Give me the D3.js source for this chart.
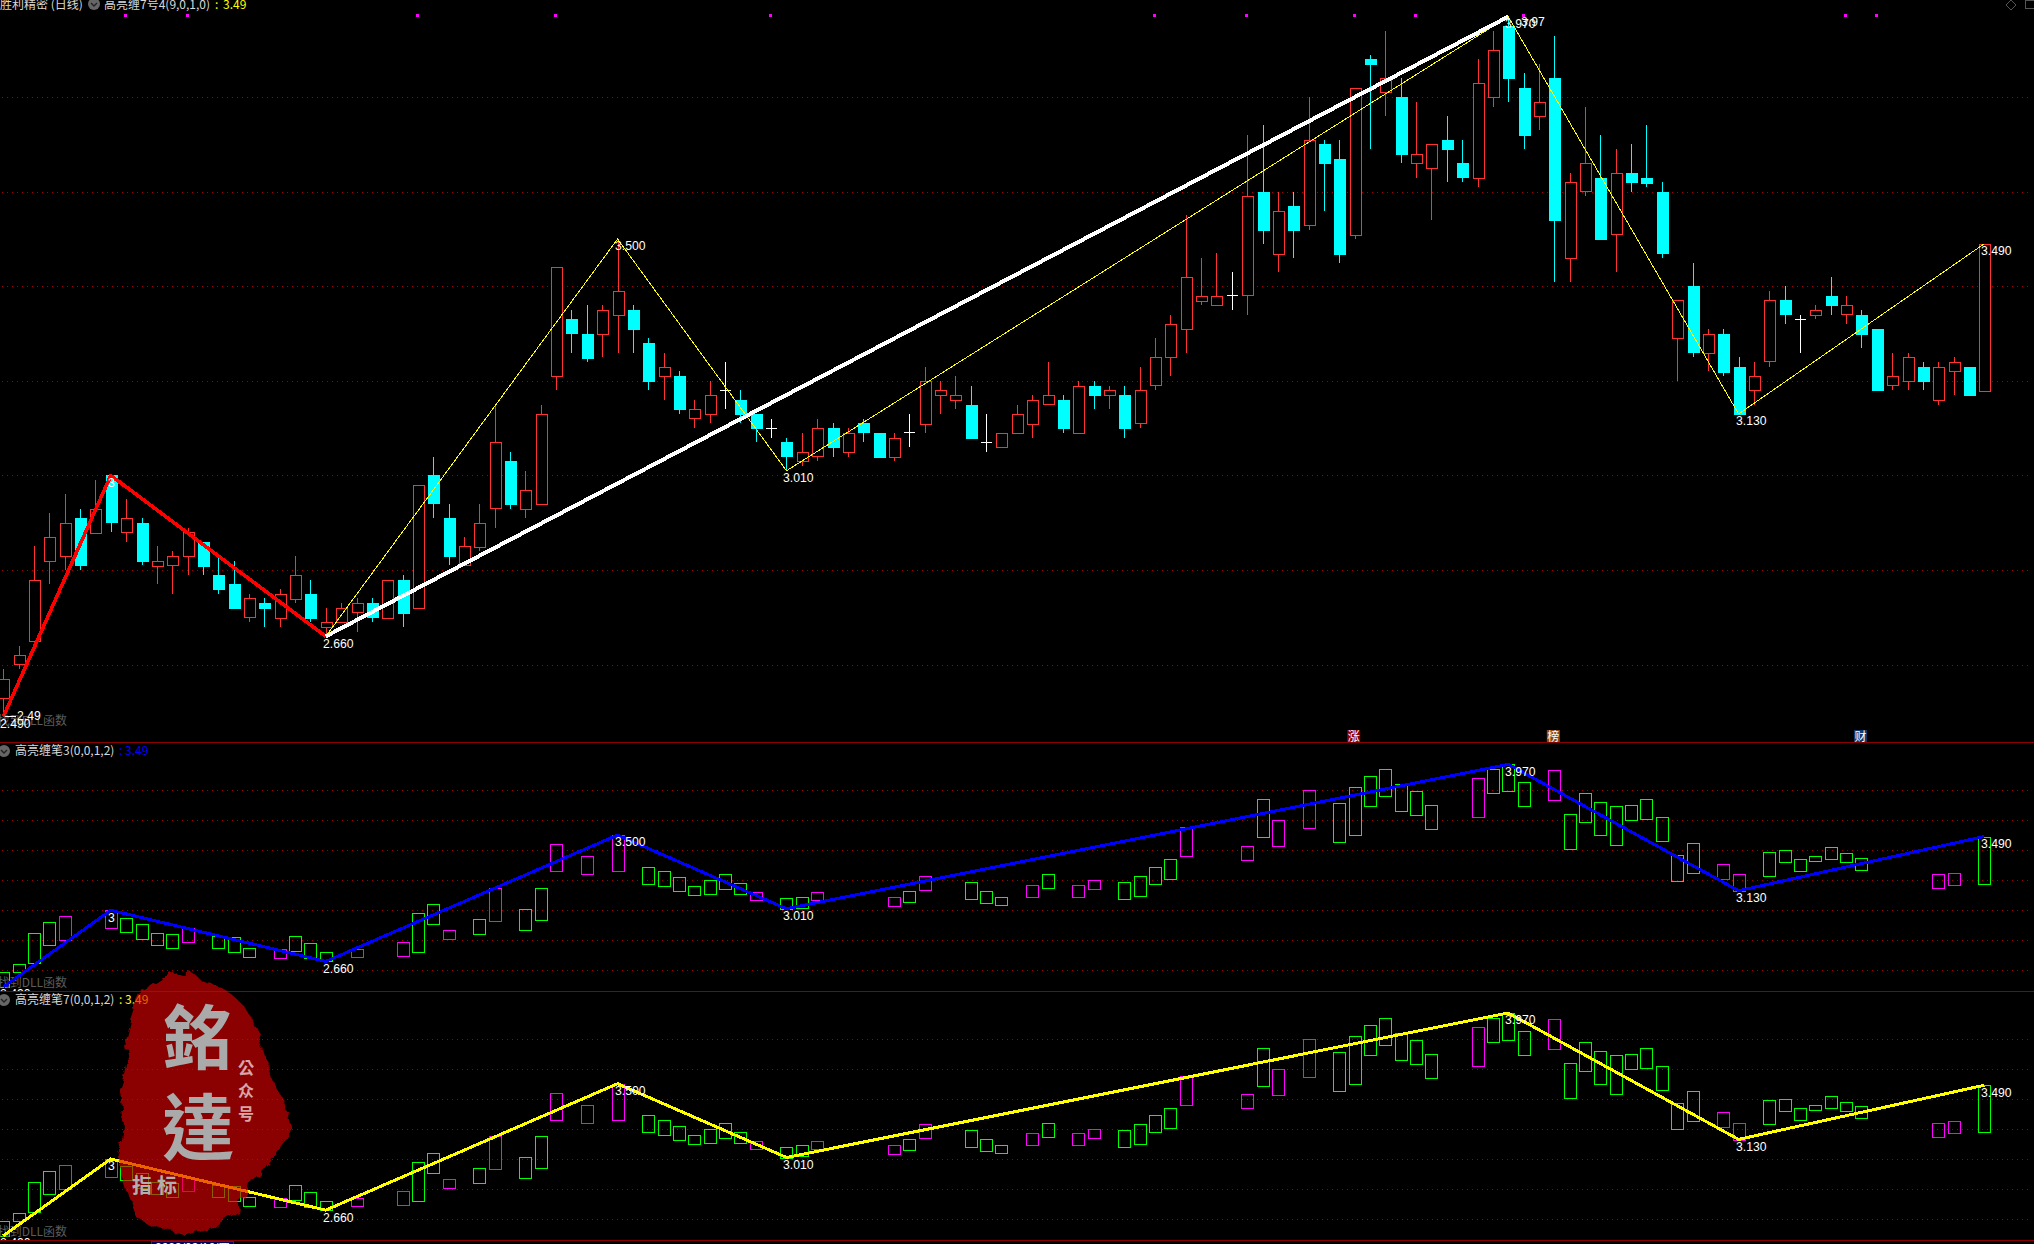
<!DOCTYPE html>
<html><head><meta charset="utf-8">
<script src="https://cdn.jsdelivr.net/npm/d3@7/dist/d3.min.js"></script>
<style>html,body{margin:0;padding:0;background:#000;overflow:hidden}svg{display:block}</style>
</head><body><svg id="c" width="2034" height="1244"></svg>
<script>
const opens=[2.53,2.60,2.65,2.82,2.83,2.91,2.88,3.00,2.88,2.90,2.81,2.81,2.83,2.86,2.79,2.77,2.70,2.73,2.70,2.74,2.75,2.68,2.69,2.71,2.73,2.70,2.78,2.72,3.00,2.91,2.81,2.85,2.93,3.03,2.93,2.94,3.21,3.33,3.30,3.30,3.34,3.35,3.28,3.21,3.21,3.12,3.13,3.18,3.16,3.13,3.10,3.07,3.03,3.04,3.10,3.05,3.11,3.09,3.04,3.09,3.11,3.17,3.16,3.15,3.07,3.06,3.09,3.11,3.15,3.16,3.09,3.19,3.17,3.17,3.11,3.19,3.25,3.31,3.37,3.36,3.38,3.38,3.60,3.47,3.57,3.53,3.70,3.67,3.51,3.88,3.81,3.80,3.66,3.65,3.71,3.66,3.63,3.80,3.95,3.82,3.76,3.84,3.46,3.60,3.63,3.51,3.64,3.63,3.60,3.29,3.40,3.26,3.30,3.23,3.18,3.24,3.37,3.33,3.34,3.38,3.34,3.34,3.31,3.19,3.20,3.23,3.16,3.22,3.23,3.18];
const closes=[2.57,2.62,2.78,2.87,2.90,2.81,2.93,2.90,2.91,2.82,2.82,2.83,2.88,2.81,2.76,2.72,2.74,2.72,2.75,2.79,2.70,2.69,2.72,2.73,2.70,2.78,2.71,2.98,2.94,2.83,2.85,2.90,3.07,2.94,2.97,3.13,3.44,3.30,3.25,3.35,3.39,3.31,3.20,3.23,3.14,3.14,3.17,3.18,3.13,3.10,3.10,3.04,3.05,3.10,3.06,3.09,3.09,3.04,3.08,3.09,3.20,3.18,3.17,3.08,3.07,3.09,3.13,3.16,3.17,3.10,3.19,3.17,3.18,3.10,3.18,3.25,3.32,3.42,3.38,3.38,3.38,3.59,3.52,3.56,3.52,3.71,3.66,3.47,3.82,3.87,3.84,3.68,3.68,3.70,3.69,3.63,3.83,3.90,3.84,3.72,3.79,3.54,3.62,3.66,3.50,3.64,3.62,3.62,3.47,3.37,3.26,3.30,3.22,3.13,3.21,3.37,3.34,3.33,3.35,3.36,3.36,3.30,3.18,3.21,3.25,3.20,3.23,3.24,3.17,3.49];
const highs=[2.59,2.64,2.85,2.92,2.96,2.93,2.99,3.00,2.95,2.91,2.85,2.84,2.89,2.86,2.83,2.82,2.75,2.74,2.76,2.83,2.78,2.72,2.73,2.74,2.74,2.78,2.79,2.98,3.04,2.94,2.87,2.94,3.15,3.05,3.01,3.15,3.44,3.35,3.36,3.36,3.50,3.36,3.29,3.26,3.22,3.16,3.20,3.24,3.18,3.13,3.12,3.08,3.09,3.12,3.11,3.10,3.12,3.09,3.09,3.13,3.23,3.20,3.21,3.19,3.13,3.09,3.15,3.17,3.24,3.17,3.20,3.20,3.19,3.19,3.23,3.29,3.34,3.55,3.46,3.47,3.43,3.72,3.74,3.60,3.60,3.80,3.71,3.71,3.82,3.89,3.94,3.84,3.79,3.70,3.76,3.71,3.88,3.94,3.97,3.85,3.87,3.93,3.64,3.78,3.72,3.69,3.70,3.74,3.62,3.37,3.45,3.31,3.31,3.25,3.24,3.39,3.40,3.34,3.36,3.42,3.38,3.35,3.31,3.26,3.26,3.24,3.24,3.25,3.23,3.49];
const lows=[2.49,2.59,2.65,2.77,2.80,2.80,2.88,2.88,2.86,2.81,2.77,2.75,2.79,2.79,2.75,2.72,2.69,2.68,2.68,2.73,2.69,2.66,2.69,2.67,2.69,2.70,2.68,2.72,2.91,2.81,2.81,2.84,2.89,2.93,2.91,2.94,3.18,3.26,3.24,3.25,3.26,3.26,3.18,3.16,3.13,3.10,3.11,3.14,3.11,3.07,3.08,3.01,3.02,3.03,3.04,3.04,3.07,3.04,3.03,3.06,3.09,3.13,3.14,3.08,3.05,3.06,3.09,3.08,3.15,3.09,3.09,3.14,3.14,3.08,3.10,3.18,3.21,3.26,3.36,3.36,3.35,3.34,3.49,3.43,3.46,3.52,3.56,3.45,3.50,3.69,3.76,3.66,3.63,3.54,3.62,3.62,3.61,3.78,3.79,3.69,3.73,3.41,3.41,3.59,3.50,3.43,3.60,3.61,3.46,3.20,3.25,3.22,3.21,3.13,3.15,3.23,3.32,3.26,3.33,3.34,3.32,3.27,3.18,3.18,3.18,3.18,3.15,3.17,3.17,3.18];

const boxIndex=[0,1,2,3,4,7,8,9,10,11,12,14,15,16,18,19,20,21,23,26,27,28,29,31,32,34,35,36,38,40,42,43,44,45,46,47,48,49,51,52,53,58,59,60,63,64,65,67,68,70,71,73,74,75,76,77,81,82,83,85,87,88,89,90,91,92,93,96,97,98,99,101,102,103,104,105,106,107,108,109,110,112,113,115,116,117,118,119,120,121,126,127,129];
const boxHigh=[2.59,2.64,2.85,2.92,2.96,3.00,2.95,2.91,2.85,2.84,2.88,2.83,2.82,2.75,2.74,2.83,2.78,2.72,2.74,2.79,2.98,3.04,2.87,2.94,3.15,3.01,3.15,3.44,3.36,3.50,3.29,3.26,3.22,3.16,3.20,3.24,3.18,3.12,3.08,3.09,3.12,3.09,3.13,3.23,3.19,3.13,3.09,3.17,3.24,3.17,3.20,3.19,3.23,3.29,3.34,3.55,3.43,3.74,3.60,3.80,3.71,3.82,3.89,3.94,3.84,3.79,3.70,3.88,3.94,3.97,3.85,3.93,3.64,3.78,3.72,3.69,3.70,3.74,3.62,3.37,3.45,3.31,3.24,3.39,3.40,3.34,3.36,3.42,3.38,3.35,3.24,3.25,3.49];
const boxLow=[2.49,2.59,2.65,2.77,2.80,2.88,2.86,2.81,2.77,2.75,2.79,2.75,2.72,2.69,2.68,2.73,2.68,2.66,2.69,2.70,2.72,2.91,2.81,2.84,2.93,2.87,2.94,3.26,3.24,3.26,3.18,3.16,3.13,3.10,3.11,3.14,3.11,3.07,3.01,3.02,3.07,3.03,3.06,3.14,3.08,3.05,3.04,3.09,3.15,3.09,3.14,3.08,3.10,3.18,3.21,3.36,3.34,3.49,3.43,3.55,3.45,3.50,3.69,3.76,3.66,3.63,3.54,3.62,3.78,3.79,3.69,3.73,3.41,3.59,3.50,3.43,3.60,3.61,3.46,3.20,3.25,3.21,3.13,3.23,3.32,3.26,3.33,3.34,3.32,3.27,3.15,3.17,3.18];
const boxMagenta=[4,7,12,18,23,26,29,32,36,38,40,49,53,58,60,67,70,71,77,81,83,85,96,101,112,113,126,127];

const pivotIndex=[0,7,21,40,51,98,113,129];
const pivotValue=[2.49,3.00,2.66,3.50,3.01,3.97,3.13,3.49];
const pivotLabel=["2.490","3","2.660","3.500","3.010","3.970","3.130","3.490"];
const redLegIndex=[0,7,21], redLegValue=[2.49,3.00,2.66];
const whiteLegIndex=[21,98], whiteLegValue=[2.66,3.97];
const thinLegIndex=[21,40,51,98,113,129], thinLegValue=[2.66,3.50,3.01,3.97,3.13,3.49];
const gridValues=[2.6,2.8,3.0,3.2,3.4,3.6,3.8];
const signalIndex=[8,12,27,36,50,75,81,88,92,99,120,122];
const badgeIndex=[88,101,121], badgeText=["涨","榜","财"];

const svg=d3.select("#c");
const CJK='"Noto Sans CJK SC","Noto Sans",sans-serif';
const NUM='"Liberation Sans",Arial,sans-serif';
const x=d3.scaleLinear().domain([0,129]).range([3.3,1984.3]);
const yMain=d3.scaleLinear().domain([2.49,3.97]).range([716.7,16.7]);
const yB=d3.scaleLinear().domain([2.49,3.97]).range([987,764.3]);
const yC=d3.scaleLinear().domain([2.49,3.97]).range([1235.7,1013]);
const gridCol="#a00000", frameCol="#8b0000";
const defs=svg.append("defs");
[["p1",0,0,742],["p2",0,743,248],["p3",0,992,248]].forEach(([id,px,py,h])=>
  defs.append("clipPath").attr("id",id).append("rect").attr("x",px).attr("y",py).attr("width",2034).attr("height",h));
const f=defs.append("filter").attr("id","rough").attr("x","-10%").attr("y","-10%").attr("width","120%").attr("height","120%");
f.append("feTurbulence").attr("type","fractalNoise").attr("baseFrequency",0.09).attr("numOctaves",3).attr("seed",4).attr("result","n");
f.append("feDisplacementMap").attr("in","SourceGraphic").attr("in2","n").attr("scale",11);

function grid(g,y){
  const axis=d3.axisLeft(y).tickValues(gridValues).tickSize(-2030).tickFormat("");
  const a=g.append("g").attr("transform","translate(2,0)").attr("shape-rendering","crispEdges").call(axis);
  a.select(".domain").remove();
  a.selectAll(".tick line").attr("stroke",gridCol).attr("stroke-dasharray","1,4");
}
function poly(g,idx,val,y,col,w){
  g.append("path").attr("d",d3.line().x(d=>x(d[0])).y(d=>y(d[1]))(idx.map((v,i)=>[v,val[i]])))
   .attr("fill","none").attr("stroke",col).attr("stroke-width",w).attr("stroke-linejoin","round")
   .attr("shape-rendering","crispEdges");
}
function num(g,tx,ty,t,col){
  return g.append("text").attr("x",tx).attr("y",ty).attr("dy","0.36em").attr("font-family",NUM).attr("font-size",12.2)
    .attr("fill",col||"#fff").text(t);
}
function dllText(g,ty){
  g.append("text").attr("x",67).attr("y",ty).attr("dy","0.36em").attr("text-anchor","end")
   .attr("font-family",CJK).attr("font-size",12).attr("fill","#5c5c5c").text("找到DLL函数");
}
function pivotLabels(g,y){
  pivotIndex.forEach((p,i)=>{
    const px=p===0?0:(p===7?108:Math.round(x(p))-3);
    num(g,px,y(pivotValue[i])+7,pivotLabel[i]);
  });
}
function chip(g,cx,cy){
  g.append("circle").attr("cx",cx).attr("cy",cy).attr("r",6).attr("fill","#666");
  g.append("path").attr("d",`M${cx-3},${cy-1} L${cx},${cy+2} L${cx+3},${cy-1}`).attr("fill","none").attr("stroke","#222").attr("stroke-width",1.4);
}
function title(g,tx,by,t,col){
  g.append("text").attr("x",tx).attr("y",by).attr("font-family",CJK).attr("font-size",12).attr("fill",col).text(t);
}

/* main panel */
const p1=svg.append("g").attr("clip-path","url(#p1)");
grid(p1,yMain);
const idx=d3.range(opens.length);
const candleCol=i=>closes[i]>opens[i]?"#ff3232":closes[i]<opens[i]?"#00ffff":"#ffffff";
const cg=p1.append("g").attr("shape-rendering","crispEdges");
cg.selectAll("line.w").data(idx).join("line").attr("class","w")
  .attr("x1",i=>Math.round(x(i))+.5).attr("x2",i=>Math.round(x(i))+.5)
  .attr("y1",i=>yMain(highs[i])).attr("y2",i=>yMain(lows[i])).attr("stroke",candleCol);
cg.selectAll("rect.b").data(idx.filter(i=>closes[i]!==opens[i])).join("rect").attr("class","b")
  .attr("x",i=>Math.round(x(i))-5).attr("width",11)
  .attr("y",i=>Math.round(yMain(Math.max(opens[i],closes[i])))+.5)
  .attr("height",i=>Math.max(1,yMain(Math.min(opens[i],closes[i]))-yMain(Math.max(opens[i],closes[i]))))
  .attr("fill",i=>closes[i]>opens[i]?"#000":"#00ffff")
  .attr("stroke",candleCol);
cg.selectAll("line.d").data(idx.filter(i=>closes[i]===opens[i])).join("line").attr("class","d")
  .attr("x1",i=>Math.round(x(i))-5).attr("x2",i=>Math.round(x(i))+6)
  .attr("y1",i=>yMain(closes[i])).attr("y2",i=>yMain(closes[i])).attr("stroke","#fff");
poly(p1,thinLegIndex,thinLegValue,yMain,"#ffff00",1);
poly(p1,redLegIndex,redLegValue,yMain,"#ff0000",3.6);
poly(p1,whiteLegIndex,whiteLegValue,yMain,"#ffffff",4);
p1.append("g").attr("shape-rendering","crispEdges").selectAll("rect").data(signalIndex).join("rect")
  .attr("x",i=>x(i)-2).attr("y",14).attr("width",3).attr("height",3).attr("fill","#ff00ff");
dllText(p1,721);
pivotLabels(p1,yMain);
num(p1,1521,22,"3.97");
p1.append("line").attr("x1",5).attr("x2",16).attr("y1",716.5).attr("y2",716.5).attr("stroke","#fff");
num(p1,17,716,"2.49");

/* top titles */
title(svg,0,9,"胜利精密 (日线)","#d8d8d8");
chip(svg,94,4);
title(svg,104,9,"高亮缠7号4(9,0,1,0)","#d8d8d8");
title(svg,215,9,":","#ffff00");
title(svg,223,9,"3.49","#ffff00");
svg.append("path").attr("d","M2011,0 L2016,5 L2011,10 L2006,5 Z").attr("fill","none").attr("stroke","#555");
svg.append("rect").attr("x",2025.5).attr("y",0.5).attr("width",10).attr("height",8).attr("fill","none").attr("stroke","#555");

/* badges */
const bg=svg.append("g");
["#8b0000","#8b4a10","#0e3a6e"].forEach((c,k)=>{
  const cx=x(badgeIndex[k]);
  bg.append("rect").attr("x",cx-7.5).attr("y",730).attr("width",13).attr("height",12).attr("fill",c);
  bg.append("text").attr("x",cx-1).attr("y",740.5).attr("text-anchor","middle").attr("font-family",CJK).attr("font-size",12).attr("fill","#fff").text(badgeText[k]);
});

/* lower panels */
function lower(clip,y,lineCol,tBase,chipY,valCol,dllY,name){
  const g=svg.append("g").attr("clip-path",`url(#${clip})`);
  grid(g,y);
  g.append("g").attr("shape-rendering","crispEdges").selectAll("rect").data(boxIndex.map((b,i)=>i)).join("rect")
    .attr("x",i=>Math.round(x(boxIndex[i]))-6+.5).attr("width",12)
    .attr("y",i=>Math.round(y(boxHigh[i]))+.5)
    .attr("height",i=>y(boxLow[i])-y(boxHigh[i]))
    .attr("fill","none").attr("stroke",i=>boxMagenta.includes(boxIndex[i])?"#ff00ff":"#00ff00");
  dllText(g,dllY);
  poly(g,pivotIndex,pivotValue,y,lineCol,3);
  pivotLabels(g,y);
  chip(svg,4,chipY);
  title(svg,15,tBase,name,"#d8d8d8");
  title(svg,119,tBase,":",valCol);
  title(svg,125,tBase,"3.49",valCol);
}
lower("p2",yB,"#0000ff",755,751,"#0000ff",983,"高亮缠笔3(0,0,1,2)");
lower("p3",yC,"#ffff00",1004,1000,"#ffff00",1232,"高亮缠笔7(0,0,1,2)");

/* frame lines */
const fg=svg.append("g").attr("shape-rendering","crispEdges");
[742,991,1240].forEach(v=>fg.append("line").attr("x1",0).attr("x2",2034).attr("y1",v+.5).attr("y2",v+.5).attr("stroke",frameCol));
svg.append("rect").attr("x",151.5).attr("y",1241.5).attr("width",82).attr("height",6).attr("fill","#000060").attr("stroke","#2020d0");
svg.append("text").attr("x",155).attr("y",1252).attr("font-family",NUM).attr("font-size",12).attr("fill","#fff").text("2023/03/16/四");

/* stamp */
const blob=[[178,973],[185,975],[190,971],[196,977],[207,982],[222,988],[232,995],[243,1005],[252,1018],[258,1032],[263,1050],[267,1062],[272,1075],[277,1090],[285,1102],[288,1115],[290,1125],[291,1135],[284,1142],[278,1150],[270,1160],[262,1172],[252,1180],[247,1192],[240,1200],[238,1212],[225,1220],[210,1228],[195,1232],[185,1236],[175,1233],[160,1228],[150,1225],[137,1218],[132,1205],[128,1195],[125,1185],[120,1172],[116,1155],[122,1140],[124,1125],[122,1110],[120,1090],[125,1075],[128,1060],[125,1040],[130,1020],[135,1005],[140,995],[150,985],[162,977]];
const st=svg.append("g");
st.append("path").attr("d",d3.line()(blob)+"Z").attr("fill","rgb(224,0,0)").attr("fill-opacity",.62).attr("filter","url(#rough)");
function sText(tx,ty,t,fs,col,w,ls){
  st.append("text").attr("x",tx).attr("y",ty).attr("text-anchor","middle").attr("font-family",'"Noto Sans CJK TC",sans-serif')
    .attr("font-size",fs).attr("font-weight",w).attr("fill",col).attr("letter-spacing",ls||0).text(t);
}
sText(198,1064,"銘",70,"#aaaaaa",700);
sText(198,1154,"達",72,"#aaaaaa",700);
sText(246,1074,"公",16,"#d9a5a5",700);
sText(246,1097,"众",16,"#d9a5a5",700);
sText(246,1120,"号",16,"#d9a5a5",700);
sText(157,1193,"指标",20,"#b0b0b0",700,5);
</script></body></html>
